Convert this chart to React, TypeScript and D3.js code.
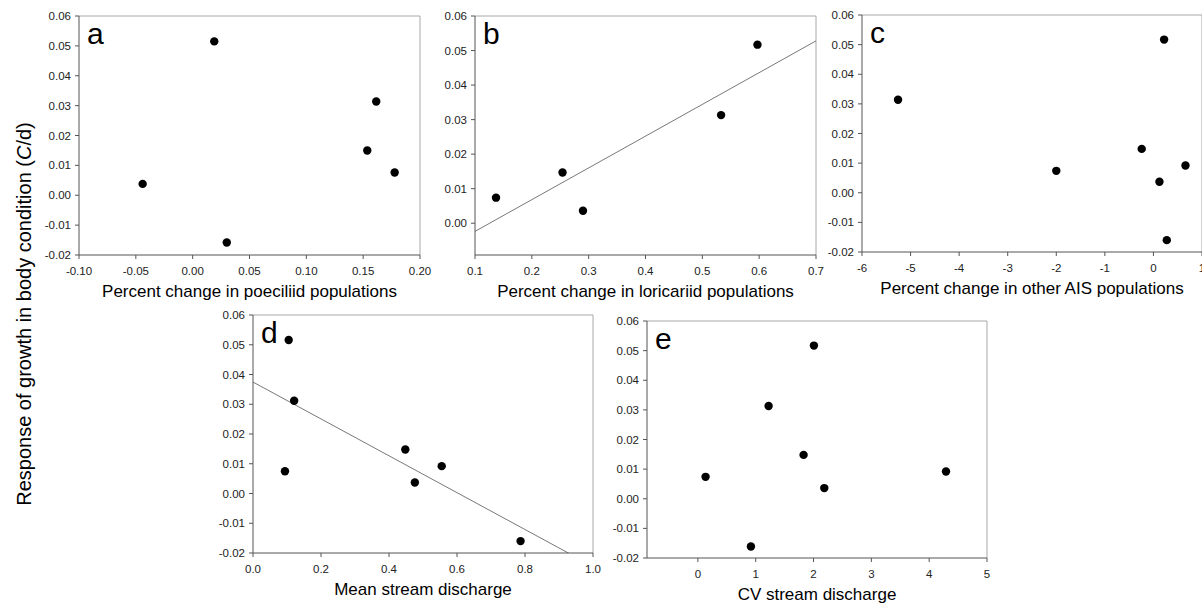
import React from "react";
import { scaleLinear, mean, sum } from "d3";

// response of growth in body condition, one array per panel
const poeciliidChange = [-0.044, 0.019, 0.03, 0.1536, 0.1615, 0.1777];
const growthA = [0.0038, 0.0515, -0.0158, 0.015, 0.0314, 0.0076];

const loricariidChange = [0.137, 0.254, 0.29, 0.533, 0.597];
const growthB = [0.0074, 0.0147, 0.0036, 0.0313, 0.0517];

const otherAisChange = [-5.258, -2.0, -0.241, 0.124, 0.22, 0.275, 0.66];
const growthC = [0.0314, 0.0074, 0.0148, 0.0037, 0.0517, -0.016, 0.0092];

const meanDischarge = [0.105, 0.121, 0.094, 0.448, 0.476, 0.555, 0.787];
const growthD = [0.0516, 0.0312, 0.0075, 0.0148, 0.0037, 0.0092, -0.016];

const cvDischarge = [0.133, 0.917, 1.223, 1.828, 2.007, 2.186, 4.291];
const growthE = [0.0074, -0.0161, 0.0313, 0.0148, 0.0517, 0.0036, 0.0092];

const growthTicks = [-0.02, -0.01, 0, 0.01, 0.02, 0.03, 0.04, 0.05, 0.06];
const growthTicksB = [0, 0.01, 0.02, 0.03, 0.04, 0.05, 0.06];
const poeciliidTicks = [-0.1, -0.05, 0, 0.05, 0.1, 0.15, 0.2];
const loricariidTicks = [0.1, 0.2, 0.3, 0.4, 0.5, 0.6, 0.7];
const otherAisTicks = [-6, -5, -4, -3, -2, -1, 0, 1];
const meanTicks = [0, 0.2, 0.4, 0.6, 0.8, 1.0];
const cvTicks = [0, 1, 2, 3, 4, 5];

const FONT = "'Liberation Sans', Arial, sans-serif";

type PanelProps = {
  id: string;
  letter: string;
  xs: number[];
  ys: number[];
  xDomain: [number, number];
  yDomain: [number, number];
  xTicks: number[];
  yTicks: number[];
  xDigits: number;
  title: string;
  box: { left: number; right: number; top: number; bottom: number };
  fit?: boolean;
};

function Panel(p: PanelProps) {
  const { left, right, top, bottom } = p.box;
  const x = scaleLinear().domain(p.xDomain).range([left, right]);
  const y = scaleLinear().domain(p.yDomain).range([bottom, top]);

  let fitLine = null;
  if (p.fit) {
    // least squares line through the points
    const mx = mean(p.xs)!;
    const my = mean(p.ys)!;
    const sxy = sum(p.xs, (v, i) => (v - mx) * (p.ys[i] - my));
    const sxx = sum(p.xs, (v) => (v - mx) * (v - mx));
    const slope = sxy / sxx;
    const icpt = my - slope * mx;
    const [x0, x1] = p.xDomain;
    fitLine = (
      <line
        x1={x(x0)}
        y1={y(icpt + slope * x0)}
        x2={x(x1)}
        y2={y(icpt + slope * x1)}
        stroke="#555"
        strokeWidth={0.8}
        clipPath={`url(#clip-${p.id})`}
      />
    );
  }

  return (
    <g>
      <clipPath id={`clip-${p.id}`}>
        <rect x={left} y={top} width={right - left} height={bottom - top} />
      </clipPath>
      {/* frame */}
      <path
        d={`M${left},${top}H${right}V${bottom}`}
        fill="none"
        stroke="#a8a8a8"
        strokeWidth={1}
      />
      <line x1={left} x2={left} y1={top} y2={bottom} stroke="#555" />
      <line x1={left} x2={right} y1={bottom} y2={bottom} stroke="#555" />

      {p.yTicks.map((t) => (
        <g key={"y" + t} transform={`translate(0,${y(t)})`}>
          <line x1={left - 4} x2={left} stroke="#555" />
          <text
            x={left - 8}
            dy="0.35em"
            textAnchor="end"
            fontSize={11.5}
            fill="#222"
          >
            {t.toFixed(2)}
          </text>
        </g>
      ))}
      {p.xTicks.map((t) => (
        <g key={"x" + t} transform={`translate(${x(t)},0)`}>
          <line y1={bottom} y2={bottom + 4} stroke="#555" />
          <text
            y={bottom + 20}
            textAnchor="middle"
            fontSize={11.5}
            fill="#222"
          >
            {t.toFixed(p.xDigits)}
          </text>
        </g>
      ))}

      {fitLine}

      {p.xs.map((v, i) => (
        <circle key={i} cx={x(v)} cy={y(p.ys[i])} r={4.2} fill="#000" />
      ))}

      <text x={left + 8} y={top + 28} fontSize={30} fill="#000">
        {p.letter}
      </text>
      <text
        x={(left + right) / 2}
        y={bottom + 42}
        textAnchor="middle"
        fontSize={17}
        fill="#000"
      >
        {p.title}
      </text>
    </g>
  );
}

export default function App() {
  return (
    <svg
      width={1202}
      height={606}
      style={{ position: "absolute", left: 0, top: 0, fontFamily: FONT }}
    >
      <rect width={1202} height={606} fill="#fff" />
      <Panel
        id="a"
        letter="a"
        xs={poeciliidChange}
        ys={growthA}
        xDomain={[-0.1, 0.2]}
        yDomain={[-0.02, 0.06]}
        xTicks={poeciliidTicks}
        yTicks={growthTicks}
        xDigits={2}
        title="Percent change in poeciliid populations"
        box={{ left: 79, right: 420, top: 16, bottom: 255 }}
      />
      <Panel
        id="b"
        letter="b"
        xs={loricariidChange}
        ys={growthB}
        xDomain={[0.1, 0.7]}
        yDomain={[-0.0092, 0.06]}
        xTicks={loricariidTicks}
        yTicks={growthTicksB}
        xDigits={1}
        title="Percent change in loricariid populations"
        box={{ left: 475, right: 816, top: 16, bottom: 255 }}
        fit
      />
      <Panel
        id="c"
        letter="c"
        xs={otherAisChange}
        ys={growthC}
        xDomain={[-6, 1]}
        yDomain={[-0.02, 0.06]}
        xTicks={otherAisTicks}
        yTicks={growthTicks}
        xDigits={0}
        title="Percent change in other AIS populations"
        box={{ left: 862, right: 1202, top: 15, bottom: 252 }}
      />
      <Panel
        id="d"
        letter="d"
        xs={meanDischarge}
        ys={growthD}
        xDomain={[0, 1]}
        yDomain={[-0.02, 0.06]}
        xTicks={meanTicks}
        yTicks={growthTicks}
        xDigits={1}
        title="Mean stream discharge"
        box={{ left: 253, right: 593, top: 315, bottom: 553 }}
        fit
      />
      <Panel
        id="e"
        letter="e"
        xs={cvDischarge}
        ys={growthE}
        xDomain={[-0.88, 5]}
        yDomain={[-0.02, 0.06]}
        xTicks={cvTicks}
        yTicks={growthTicks}
        xDigits={0}
        title="CV stream discharge"
        box={{ left: 647, right: 987, top: 321, bottom: 558 }}
      />
      <text
        transform="translate(31,314) rotate(-90)"
        textAnchor="middle"
        fontSize={20}
        fill="#000"
      >
        Response of growth in body condition (<tspan fontStyle="italic">C</tspan>/d)
      </text>
    </svg>
  );
}
